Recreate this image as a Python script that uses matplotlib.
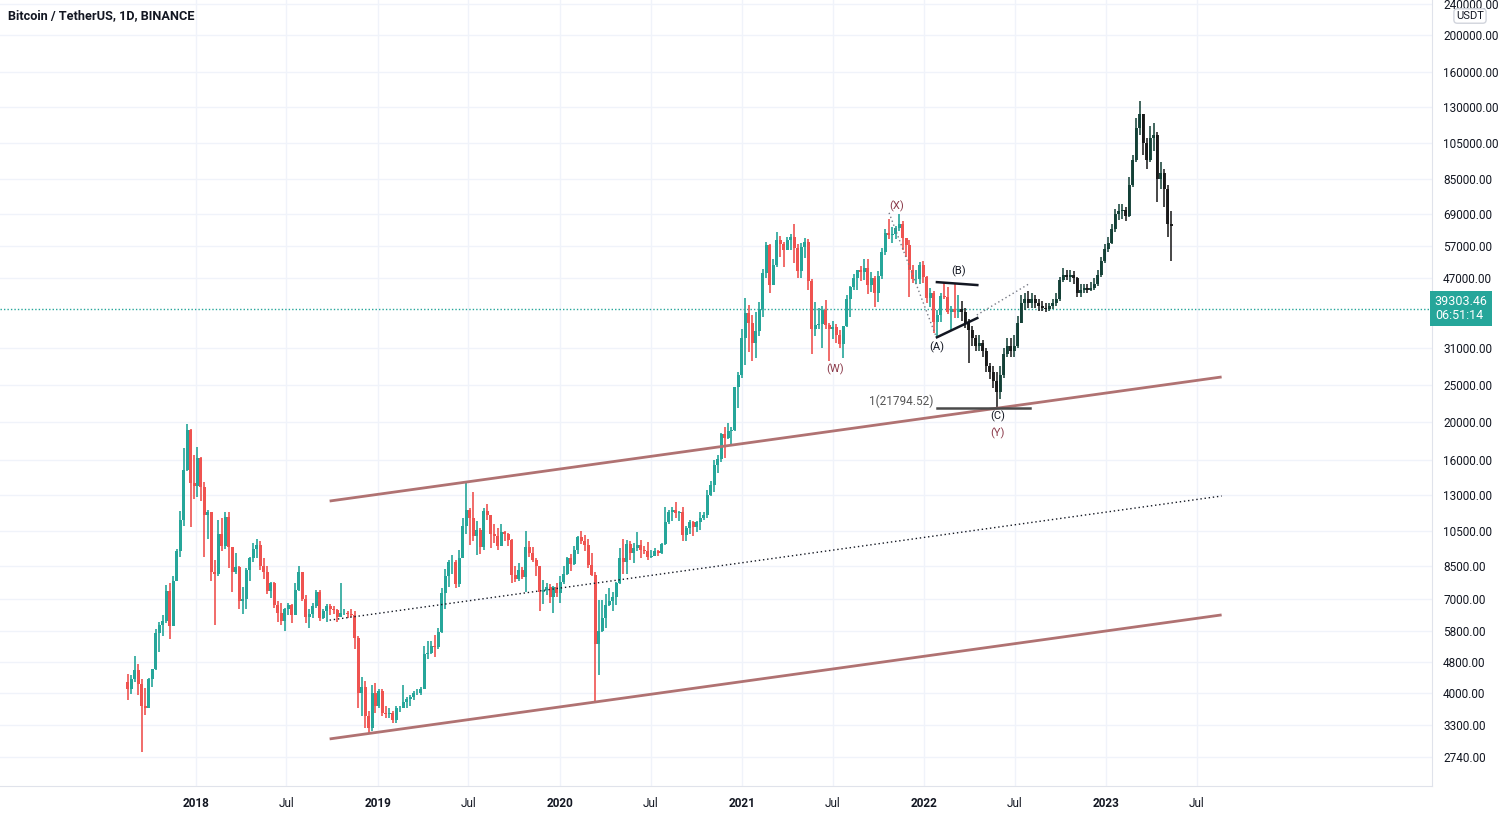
import numpy as np
import pandas as pd
import matplotlib
matplotlib.use("Agg")
import matplotlib.pyplot as plt
import matplotlib.dates as mdates
from matplotlib.transforms import blended_transform_factory
from matplotlib.ticker import FixedLocator, NullLocator

# weekly candles (BINANCE BTCUSDT, weeks starting Monday)
real_start = "2017-08-14"
real_open0 = 4261.48
real_close = [
    4090, 4340, 4580, 4230, 3700, 3660, 4360, 4610, 5710, 6010, 6150, 7350, 5950, 7800, 9300, 11200, 15100, 19100, 13900, 13700,
    16200, 13600, 11500, 11700, 8200, 8100, 10300, 9600, 11400, 9500, 8200, 8450, 6900, 7000, 8300, 8900, 9400, 9650, 8500, 8200,
    7350, 7700, 6750, 6450, 6150, 6600, 6750, 6350, 7400, 8200, 7000, 6300, 6400, 6700, 7300, 6250, 6500, 6700, 6600, 6550,
    6300, 6450, 6450, 6400, 6350, 5550, 4000, 4150, 3500, 3250, 4000, 3700, 4050,
    3550, 3530, 3550, 3400, 3650, 3650, 3800, 3860, 3900, 4000, 4000, 4100, 5050, 5070, 5300, 5250, 5750, 7250, 8000, 8700,
    8700, 7650, 8950, 10800, 11900, 11300, 10200, 10550, 9500, 11800, 11500, 10300, 10150, 9600, 10400, 10300, 9950, 8050, 7900, 8300,
    7950, 9550, 9200, 8800, 8500, 7300, 7400, 7500, 7100, 7500, 7250, 7750,
    8100, 8900, 8600, 9350, 10100, 9900, 9650, 8550, 8050, 5350, 5800, 6250, 6750, 6900, 7100, 7700, 8900, 8700, 9700, 9180,
    9450, 9650, 9350, 9300, 9000, 9050, 9300, 9200, 9700, 11050, 11700, 11900, 11650, 11700, 10250, 10650, 11050, 10750, 11050, 11350,
    11500, 13000, 13800, 15500, 16100, 18700, 18200, 19000, 19150, 24650, 26450, 33000,
    38200, 36000, 32100, 34300, 39200, 48600, 57400, 45200, 51000, 59000, 57600, 55800, 59000, 60000, 56200, 49100, 56600, 58200, 46400, 34700,
    35700, 35800, 39000, 35600, 34700, 35300, 33500, 31800, 35400, 41500, 44600, 47000, 49300, 48800, 49900, 45100, 47250, 43200, 47700, 54900,
    61500, 61000, 61300, 63300, 65000, 59700, 57300, 49400, 46700, 46700, 50800, 47300,
    41900, 43100, 36300, 37900, 42400, 42200, 38400, 39100, 38400, 39303.46,
]
real_high = [
    4485, 4450, 4980, 4750, 4350, 4130, 4380, 4620, 5850, 6100, 6350, 7600, 7700, 8000, 9400, 11800, 17200, 19800, 19200, 16500,
    17250, 16300, 14000, 11900, 11700, 8800, 11200, 11300, 11700, 11700, 9500, 9200, 8500, 7500, 8400, 9000, 9750, 9990, 9900, 8900,
    8500, 7750, 7750, 6900, 6850, 6650, 6850, 6800, 7700, 8500, 8200, 7150, 6600, 6850, 7400, 7400, 6600, 6800, 6800, 6700,
    6600, 7700, 6600, 6500, 6600, 6500, 5600, 4400, 4300, 3600, 4200, 4250, 4100,
    4100, 3700, 3650, 3600, 3700, 3700, 4200, 3900, 3950, 4050, 4100, 4150, 5300, 5450, 5450, 5650, 5900, 7450, 8350, 8800,
    9100, 8800, 9350, 11300, 13970, 12000, 13200, 11100, 10650, 12000, 12300, 11550, 10950, 10650, 10900, 10500, 10350, 10000, 8500, 8650,
    8450, 10500, 9900, 9500, 8900, 8500, 7850, 7700, 7650, 7550, 7700, 8000,
    8500, 9000, 9150, 9600, 10150, 10500, 10250, 10000, 9200, 8200, 6950, 6950, 7200, 7450, 7300, 7750, 9450, 10000, 9950, 9850,
    9750, 10400, 9950, 9600, 9800, 9350, 9450, 9350, 9750, 12100, 11850, 12100, 12450, 11800, 12050, 10800, 11200, 11150, 11100, 11700,
    11750, 13350, 14100, 15950, 16500, 18800, 19400, 19900, 19400, 24700, 27000, 34800,
    41950, 40100, 37850, 38600, 40950, 49700, 58350, 57500, 52600, 61800, 60600, 58400, 60200, 61200, 64850, 57500, 58000, 59600, 59500, 46700,
    40900, 39500, 40000, 41300, 36000, 36600, 35900, 34600, 35500, 42600, 44800, 48150, 49500, 50500, 52900, 52900, 48850, 47700, 49200, 56150,
    62900, 67000, 63750, 64300, 69000, 66300, 59800, 59200, 51000, 49500, 51900, 52100,
    47600, 44450, 43500, 38900, 43200, 45850, 44700, 40000, 45400, 42600,
]
real_low = [
    3850, 3970, 4280, 3950, 2817, 3520, 3660, 4150, 4580, 5100, 5600, 6050, 5500, 5950, 7800, 9000, 10800, 15000, 10700, 12700,
    12800, 12500, 9000, 10000, 7800, 6000, 8000, 9300, 9400, 8400, 7300, 8100, 6600, 6400, 6600, 7800, 8700, 8900, 8300, 7900,
    7200, 7050, 6650, 6100, 6000, 5800, 6350, 6080, 6350, 7350, 6900, 6050, 5900, 6250, 6650, 6150, 6200, 6100, 6350, 6400,
    6100, 6300, 6350, 6250, 6300, 5200, 3650, 3500, 3250, 3150, 3200, 3550, 3650,
    3500, 3450, 3450, 3350, 3350, 3580, 3650, 3650, 3700, 3850, 3950, 3950, 4100, 4900, 5050, 4950, 5200, 5700, 6600, 7500,
    8100, 7450, 7500, 8950, 10300, 9650, 9900, 9100, 9150, 9350, 11200, 9450, 9750, 9350, 9600, 9900, 9600, 7700, 7750, 7800,
    7900, 7300, 9000, 8700, 8000, 6500, 6800, 7150, 6850, 6450, 7100, 6850,
    7650, 8050, 8250, 8550, 9150, 9700, 9300, 8400, 8000, 3782, 4450, 5750, 5900, 6700, 6500, 6750, 7650, 8100, 8100, 8800,
    8650, 9300, 8900, 9150, 8800, 8900, 9050, 9050, 9150, 9650, 10950, 11150, 11300, 11150, 9850, 9900, 10300, 10150, 10400, 10550,
    11200, 11350, 12900, 13250, 14800, 15800, 16200, 18100, 17600, 19000, 21800, 26000,
    28100, 30400, 28850, 29250, 33400, 37400, 47000, 43000, 45100, 50300, 53300, 50400, 55500, 55500, 51500, 47000, 47050, 53100, 43800, 30000,
    33400, 34800, 31000, 34800, 28800, 32700, 32100, 31000, 29300, 35300, 37300, 43800, 43950, 46400, 46600, 42800, 43400, 39600, 40800, 46900,
    54000, 59500, 58000, 59400, 62300, 55600, 53300, 42000, 45700, 45500, 45600, 45700,
    40500, 39650, 34000, 32900, 36250, 41650, 38000, 34300, 37200, 37150,
]

# projected bar pattern (black candles) after the last real bar
proj_start = "2022-03-14"
proj_close = [
    38500, 36000, 34500, 33000, 31500, 32000, 30500, 28000, 27000, 25500,
    24000, 26500, 30000, 31500, 30500, 31500, 36000, 40500, 41500, 40500,
    41500, 40500, 40000, 39500, 39300, 39800, 40500, 41500, 46500, 48000,
    47500, 48000, 47000, 43000, 44000, 44500, 44000, 44500, 45500, 48000,
    52000, 56000, 58000, 63000, 69000, 70000, 70500, 68000, 82000, 95000,
    115000, 125000, 105000, 95000, 108000, 110000, 85000, 88000, 80000, 65000,
    64000,
]
proj_high = [
    41000, 39500, 37000, 35500, 33500, 33500, 32500, 31000, 28500, 28000,
    27000, 28000, 31000, 33000, 33000, 33500, 37500, 42500, 43000, 43500,
    43000, 42500, 41500, 41000, 40500, 40500, 41500, 43000, 47500, 50000,
    49500, 49500, 49000, 47500, 45500, 45500, 45500, 46000, 47000, 49500,
    53500, 57500, 60000, 65000, 71000, 73000, 73000, 72000, 86000, 98000,
    122000, 135000, 125000, 108000, 116000, 118000, 112000, 94000, 90000, 82000,
    70000,
]
proj_low = [
    36500, 35000, 28500, 31500, 30500, 30500, 29500, 27000, 25800, 24500,
    21800, 23000, 26000, 29500, 29500, 29500, 31000, 36000, 39000, 39500,
    39500, 39500, 38800, 38800, 38500, 38800, 39300, 40000, 41000, 46000,
    46500, 46000, 45500, 42000, 42000, 43000, 43000, 43500, 44000, 45000,
    47500, 51500, 55000, 57500, 62000, 66500, 67000, 66000, 67500, 81000,
    94000, 110000, 98000, 90000, 94000, 100000, 74000, 80000, 72000, 60000,
    52000,
]

last_price = 39303.46
fib_level = 21794.52

price_ticks = [2740, 3300, 4000, 4800, 5800, 7000, 8500, 10500, 13000, 16000, 20000,
               25000, 31000, 47000, 57000, 69000, 85000, 105000, 130000, 160000, 200000, 240000]
time_ticks = ["2018-01-01", "2018-07-01", "2019-01-01", "2019-07-01", "2020-01-01", "2020-07-01",
              "2021-01-01", "2021-07-01", "2022-01-01", "2022-07-01", "2023-01-01", "2023-07-01"]
time_labels = ["2018", "Jul", "2019", "Jul", "2020", "Jul", "2021", "Jul", "2022", "Jul", "2023", "Jul"]

# drawings: (date, price) anchors
channel_top = [("2018-09-26", 12520), ("2023-08-20", 26170)]
channel_mid = [("2018-09-26", 6170), ("2023-08-20", 12900)]
channel_low = [("2018-09-26", 3046), ("2023-08-20", 6365)]
tri_top = [("2022-01-26", 45970), ("2022-04-17", 45180)]
tri_low = [("2022-01-26", 33130), ("2022-04-17", 37140)]
x_to_a = [("2021-10-22", 69400), ("2022-01-25", 33100)]
b_proj = [("2022-04-16", 37800), ("2022-08-01", 45700)]
fib_span = ["2022-01-26", "2022-08-01"]

wave_labels = [
    ("(X)", "2021-11-07", 72270, "#8b3a4a"),
    ("(W)", "2021-07-05", 27440, "#8b3a4a"),
    ("(Y)", "2022-05-28", 18770, "#8b3a4a"),
    ("(A)", "2022-01-26", 31270, "#131722"),
    ("(B)", "2022-03-11", 49100, "#131722"),
    ("(C)", "2022-05-28", 20770, "#131722"),
]

plt.rcParams['font.family'] = ['Roboto', 'DejaVu Sans']

W, H = 1508, 814
fig = plt.figure(figsize=(W / 100, H / 100), dpi=100)
fig.patch.set_facecolor("white")
ax = fig.add_axes([0, 28 / H, 1432 / W, 786 / H])


def draw_candles(start, open0, highs, lows, closes, up, down, alpha=1.0):
    c = np.asarray(closes, dtype=float)
    o = np.concatenate([[open0], c[:-1]])
    h = np.asarray(highs, dtype=float)
    l = np.asarray(lows, dtype=float)
    x = mdates.date2num(pd.date_range(start, periods=len(c), freq="7D")) + 3
    cols = np.where(c >= o, up, down)
    ax.vlines(x, l, h, colors=cols, lw=1.2, alpha=alpha, zorder=3)
    ax.bar(x, np.abs(c - o), bottom=np.minimum(o, c), width=6,
           color=cols, linewidth=0, alpha=alpha, zorder=3)


def line(points, **kw):
    d = mdates.date2num(pd.to_datetime([p[0] for p in points]))
    ax.plot(d, [p[1] for p in points], **kw)


ax.set_yscale("log")

draw_candles(real_start, real_open0, real_high, real_low, real_close, "#26a69a", "#ef5350")
draw_candles(proj_start, real_close[-1], proj_high, proj_low, proj_close, "#0f3d33", "#151515", alpha=0.92)

# channel
line(channel_top, color="#b07272", lw=2, zorder=4, solid_capstyle="butt")
line(channel_low, color="#b07272", lw=2, zorder=4, solid_capstyle="butt")
line(channel_mid, color="#131722", lw=1, ls=(0, (1, 2)), zorder=4)

# wave drawings
line(tri_top, color="#131722", lw=1.8, zorder=5)
line(tri_low, color="#131722", lw=1.8, zorder=5)
line(x_to_a, color="#787b86", lw=1, ls=(0, (1, 2)), zorder=5)
line(b_proj, color="#787b86", lw=1, ls=(0, (1, 2)), zorder=5)
fx = mdates.date2num(pd.to_datetime(fib_span))
ax.plot(fx, [fib_level, fib_level], color="#4a4a4a", lw=1.8, zorder=5)
ax.text(mdates.date2num(pd.Timestamp("2022-01-18")), 22690, f"1({fib_level:.2f})",
        ha="right", va="center", fontsize=8.5, color="#555555", zorder=6)

for txt, d, p, col in wave_labels:
    ax.text(mdates.date2num(pd.Timestamp(d)), p, txt, ha="center", va="center",
            fontsize=8, color=col, zorder=6)

# last price line
ax.axhline(last_price, color="#26a69a", lw=1, ls=(0, (1, 1.5)), zorder=2)

# axes limits (1D scale: ~0.4986 px per day)
x2018 = mdates.date2num(pd.Timestamp("2018-01-01"))
ax.set_xlim(x2018 - 196 / 0.4986, x2018 + (1432 - 196) / 0.4986)
y_top = 240000 * np.exp(4 / 168.3)
y_bot = 240000 * np.exp(-782 / 168.3)
ax.set_ylim(y_bot, y_top)

ax.yaxis.set_major_locator(FixedLocator(price_ticks))
ax.yaxis.set_minor_locator(NullLocator())
ax.set_yticklabels([f"{p:.2f}" for p in price_ticks])
ax.yaxis.tick_right()
ax.tick_params(axis="y", length=0, pad=8, labelsize=8.5, labelcolor="#131722")

ax.set_xticks(mdates.date2num(pd.to_datetime(time_ticks)))
ax.set_xticklabels(time_labels)
ax.xaxis.set_minor_locator(NullLocator())
ax.tick_params(axis="x", length=0, pad=8, labelsize=8.5, labelcolor="#131722")
for lab in ax.get_xticklabels():
    if lab.get_text() != "Jul":
        lab.set_fontweight("bold")

ax.grid(True, color="#f0f3fa", lw=1, zorder=0)
ax.set_axisbelow(True)
for s in ["top", "left"]:
    ax.spines[s].set_visible(False)
for s in ["right", "bottom"]:
    ax.spines[s].set_color("#e0e3eb")

# price label box for the last price
tr = blended_transform_factory(ax.transAxes, ax.transData)
ax.text(1.002, last_price, f"{last_price:.2f}\n06:51:14", transform=tr, ha="left", va="center",
        fontsize=9, color="white", linespacing=1.1, clip_on=False, zorder=10,
        bbox=dict(facecolor="#26a69a", edgecolor="none", boxstyle="square,pad=0.35"))

fig.text(1470 / W, 1 - 16 / H, "USDT", ha="center", va="center", fontsize=8, color="#131722",
         bbox=dict(facecolor="white", edgecolor="#d1d4dc", boxstyle="round,pad=0.2,rounding_size=0.3"))

fig.text(8 / W, 1 - 16 / H, "Bitcoin / TetherUS, 1D, BINANCE", ha="left", va="center",
         fontsize=9.2, fontweight="bold", color="#131722")

fig.savefig("out.png", dpi=100)
